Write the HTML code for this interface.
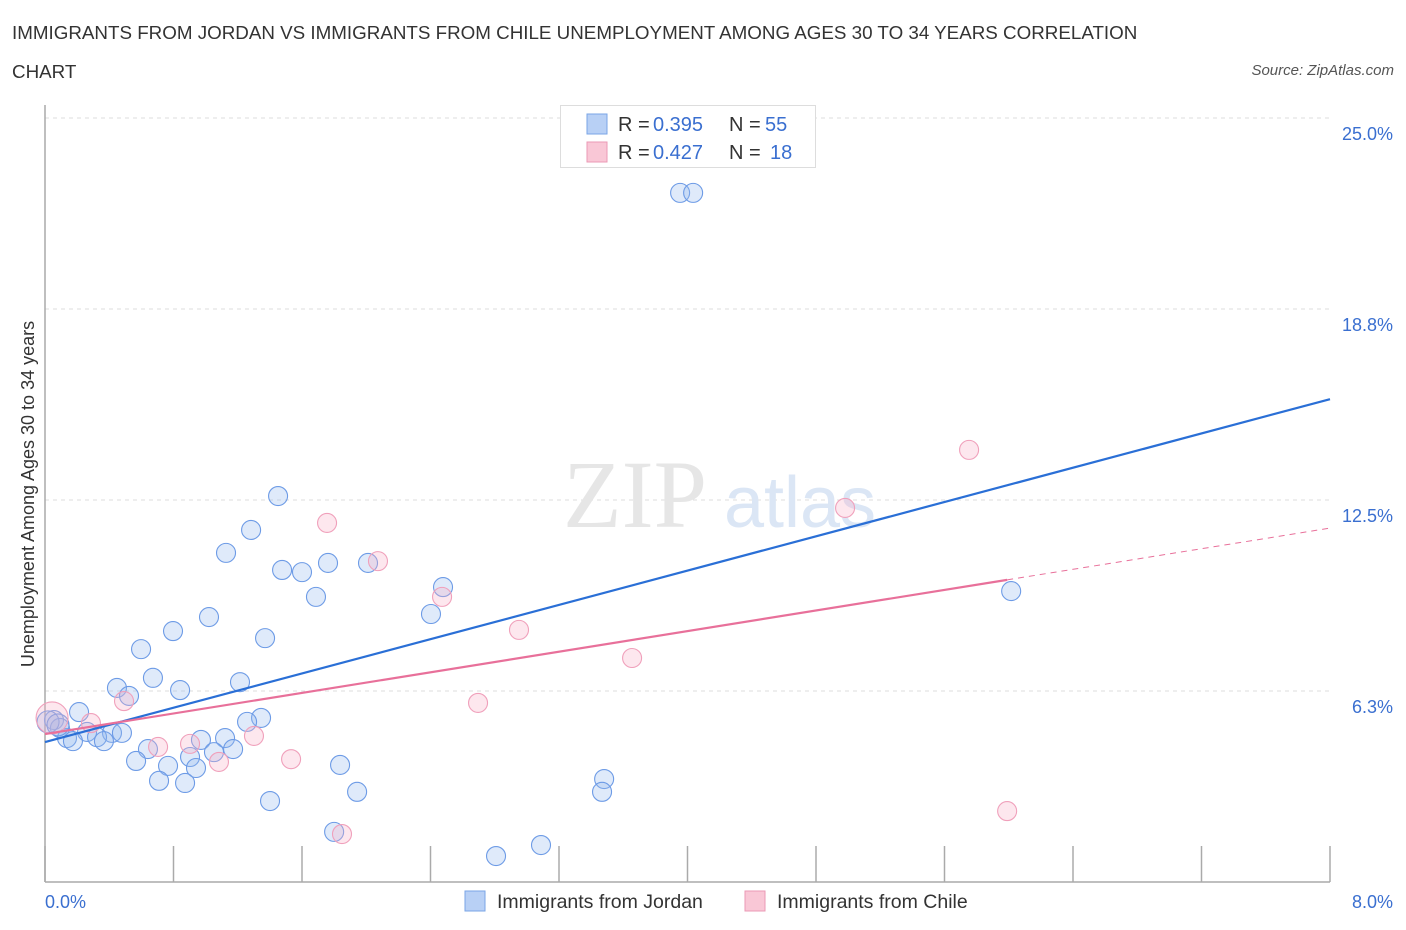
<!DOCTYPE html>
<html><head><meta charset="utf-8">
<style>
body{margin:0;background:#fff;font-family:"Liberation Sans",sans-serif;}
#wrap{position:relative;width:1406px;height:930px;overflow:hidden;}
.t{position:absolute;color:#333;font-size:18.8px;}
</style></head>
<body>
<div id="wrap">
<div class="t" style="left:12px;top:22px;">IMMIGRANTS FROM JORDAN VS IMMIGRANTS FROM CHILE UNEMPLOYMENT AMONG AGES 30 TO 34 YEARS CORRELATION</div>
<div class="t" style="left:12px;top:61px;">CHART</div>
<div style="position:absolute;right:12px;top:62px;font-size:15px;font-style:italic;color:#555;">Source: ZipAtlas.com</div>
<svg id="svg" width="1406" height="930" style="position:absolute;left:0;top:0;"></svg>
</div>
<script>
const blueX=[3.954,4.035,1.451,1.283,1.127,1.476,1.600,1.762,2.011,2.478,1.687,2.403,1.021,0.797,1.370,0.598,0.672,1.214,0.448,0.841,0.523,0.212,0.056,1.345,1.258,0.093,0.262,0.417,0.479,0.137,0.324,0.174,0.367,0.971,1.121,0.641,1.171,1.052,0.903,0.567,0.766,0.940,1.837,0.710,0.872,3.481,3.468,1.943,1.401,1.800,3.088,2.808,6.015,0.019,0.081];
const blueY=[22.55,22.55,12.63,11.52,10.77,10.21,10.14,10.44,10.44,9.65,9.33,8.77,8.67,8.21,7.98,7.62,6.68,6.54,6.35,6.28,6.09,5.56,5.30,5.37,5.24,5.04,4.91,4.88,4.88,4.71,4.74,4.61,4.61,4.65,4.71,4.35,4.35,4.25,4.09,3.96,3.80,3.73,3.83,3.31,3.24,3.37,2.95,2.95,2.65,1.64,1.21,0.85,9.52,5.24,5.14];
const pinkX=[0.044,0.286,0.492,1.756,2.073,2.472,2.951,3.655,2.696,0.903,0.704,1.301,1.083,1.532,1.849,4.981,5.753,5.990];
const pinkY=[5.37,5.20,5.92,11.75,10.50,9.33,8.25,7.33,5.86,4.52,4.42,4.78,3.93,4.02,1.57,12.24,14.14,2.32];
const blueTrend=[4.58,15.80];
const pinkTrend=[4.84,11.58];
const pinkSolidEnd=5.99;
const yTicks=[6.25,12.5,18.75,25];
const yTickLabels=["6.3%","12.5%","18.8%","25.0%"];
const xTicks=[0,0.8,1.6,2.4,3.2,4.0,4.8,5.6,6.4,7.2,8.0];

const X0=45,X1=1330,Yb=882,Yt=118;
const sx=v=>X0+(X1-X0)*v/8;
const sy=v=>Yb-(Yb-Yt)*v/25;
const svg=document.getElementById('svg');
const NS='http://www.w3.org/2000/svg';
function mk(tag,at){const e=document.createElementNS(NS,tag);for(const k in at)e.setAttribute(k,at[k]);svg.appendChild(e);return e;}
function txt(x,y,s,at){const e=mk('text',Object.assign({x:x,y:y},at));e.textContent=s;return e;}

yTicks.forEach((v,i)=>{
  const g=mk('line',{x1:X0,x2:X1,y1:sy(v),y2:sy(v),stroke:'#ddd','stroke-dasharray':'4,4'});
  
  
  const t=txt(1393,sy(v)+22,yTickLabels[i],{'text-anchor':'end','font-size':18,fill:'#3a6fd0','font-family':'Liberation Sans'});
  
  
});
const ax=mk('line',{x1:X0,x2:X1,y1:Yb,y2:Yb,stroke:'#aaa','stroke-width':1.5});


const ay=mk('line',{x1:X0,x2:X0,y1:105,y2:Yb,stroke:'#aaa','stroke-width':1.5});


xTicks.forEach(v=>{
  const t=mk('line',{x1:sx(v),x2:sx(v),y1:Yb,y2:Yb-36,stroke:'#aaa','stroke-width':1.5});
  
  
});
let l=txt(45,908,'0.0%',{'font-size':18,fill:'#3a6fd0'});


l=txt(1393,908,'8.0%',{'font-size':18,fill:'#3a6fd0','text-anchor':'end'});


l=txt(0,0,'Unemployment Among Ages 30 to 34 years',{'font-size':18,fill:'#333','text-anchor':'middle',transform:'translate(34,494) rotate(-90)'});


l=txt(635,527,'ZIP',{'font-size':96,fill:'#e6e6e6','text-anchor':'middle','font-family':'Liberation Serif'});


l=txt(800,527,'atlas',{'font-size':72,fill:'#dbe6f5','text-anchor':'middle'});



blueX.forEach((x,i)=>{
  const c=mk('circle',{cx:sx(x),cy:sy(blueY[i]),r:(i>=53?11:9.5),fill:'rgba(150,185,240,0.3)',stroke:'#6d9be6','stroke-width':1.1});
  
  
});
pinkX.forEach((x,i)=>{
  const c=mk('circle',{cx:sx(x),cy:sy(pinkY[i]),r:(i===0?16:9.5),fill:'rgba(248,175,200,0.3)',stroke:'#f0a0bb','stroke-width':1.1});
  
  
});
let tl=mk('line',{x1:sx(0),y1:sy(blueTrend[0]),x2:sx(8),y2:sy(blueTrend[1]),stroke:'#2a6fd6','stroke-width':2.2});


const pAt=x=>pinkTrend[0]+(pinkTrend[1]-pinkTrend[0])*x/8;
tl=mk('line',{x1:sx(0),y1:sy(pinkTrend[0]),x2:sx(pinkSolidEnd),y2:sy(pAt(pinkSolidEnd)),stroke:'#e8709a','stroke-width':2.2});


tl=mk('line',{x1:sx(pinkSolidEnd),y1:sy(pAt(pinkSolidEnd)),x2:sx(8),y2:sy(pinkTrend[1]),stroke:'#e8709a','stroke-width':1,'stroke-dasharray':'6,5'});



let r=mk('rect',{x:560.5,y:105.5,width:255,height:62,fill:'#fff',stroke:'#ddd'});


[[0,'#b8d0f5','#7aa5e6','0.395','55',765],[1,'#f9c7d6','#eb9ab5','0.427','18',770]].forEach(([i,f,s,R,N,nx])=>{
  const y=114+i*28;
  const sw=mk('rect',{x:587,y:y,width:20,height:20,fill:f,stroke:s});
  
  
  let t=txt(618,y+17,'R =',{'font-size':20,fill:'#333'});
  
  
  t=txt(653,y+17,R,{'font-size':20,fill:'#3a6fd0'});
  
  
  t=txt(729,y+17,'N =',{'font-size':20,fill:'#333'});
  
  
  t=txt(nx,y+17,N,{'font-size':20,fill:'#3a6fd0'});
  
  
});
[[465,'#b8d0f5','#7aa5e6','Immigrants from Jordan','legend-jordan'],[745,'#f9c7d6','#eb9ab5','Immigrants from Chile','legend-chile']].forEach(([x,f,s,n,dn])=>{
  const sw=mk('rect',{x:x,y:891,width:20,height:20,fill:f,stroke:s});
  
  
  const t=txt(x+32,908,n,{'font-size':19.5,fill:'#333'});
  
  
});
</script>
</body></html>
